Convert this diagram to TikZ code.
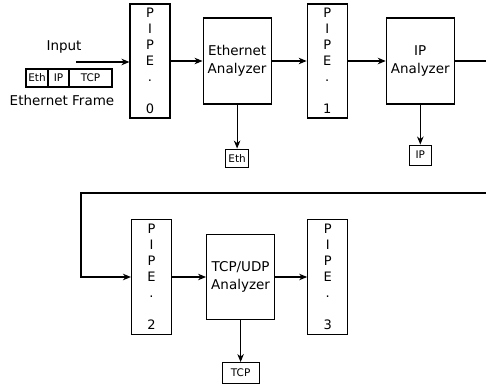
\documentclass[tikz,border=0pt]{standalone}
\usepackage{fontspec}
\setmainfont{DejaVu Sans}
\usetikzlibrary{arrows.meta,positioning}

\begin{document}
\begin{tikzpicture}[->,>={Stealth[length=8pt,width=6.5pt,inset=2.5pt]},x=1pt,y=-1pt,
                    line width=1.1pt,node distance=32pt]
  \tikzstyle{pipe}=[draw,rectangle,minimum width=40pt,minimum height=114pt,
                    inner sep=0pt,align=center,font=\fontsize{13}{16}\selectfont]
  \tikzstyle{analyzer}=[draw,rectangle,minimum width=68pt,minimum height=86pt,
                    inner sep=0pt,align=center,font=\fontsize{13.5}{17.5}\selectfont]
  \tikzstyle{outbox}=[draw,rectangle,minimum height=19pt,inner sep=2pt,
                    font=\fontsize{10.5}{12}\selectfont]
  \tikzstyle{cell}=[draw,rectangle,minimum height=18pt,inner sep=0pt,outer sep=0pt,
                    font=\fontsize{10.5}{12}\selectfont]

  \useasboundingbox (0,0) rectangle (486,385);

  % input frame
  \node (input) at (64,47) {\fontsize{13.5}{15}\selectfont Input};
  \coordinate (instart) at (76,62);
  \node[cell,minimum width=22pt] (feth) at (37,78) {Eth};
  \node[cell,minimum width=21pt] (fip) [right=0pt of feth] {IP};
  \node[cell,minimum width=43pt] (ftcp) [right=0pt of fip] {TCP};
  \node (frame) at (62,100) {\fontsize{13.5}{15}\selectfont Ethernet Frame};

  % top row
  \node[pipe] (pipe0) at (150,61) {P\\I\\P\\E\\.\\[16pt]0};
  \node[analyzer] (ethan) [right=of pipe0] {Ethernet\\Analyzer};
  \node[outbox,minimum width=23pt,minimum height=18pt] (eth) [below=44pt of ethan] {Eth};
  \node[pipe] (pipe1) [right=35pt of ethan] {P\\I\\P\\E\\.\\[16pt]1};
  \node[analyzer] (ipan) [right=38pt of pipe1] {IP\\Analyzer};
  \node[outbox,minimum width=22pt,minimum height=20pt] (ip) [below=40pt of ipan] {IP};

  % bottom row
  \coordinate (wrapr) at (495,193);
  \coordinate (wrapl) at (81,193);
  \node[pipe,minimum height=115pt] (pipe2) at (151.5,277) {P\\I\\P\\E\\.\\[16pt]2};
  \node[analyzer,minimum height=85pt] (tcpan) [right=34pt of pipe2] {TCP/UDP\\Analyzer};
  \node[outbox,minimum width=37pt,minimum height=21pt] (tcp) [below=42pt of tcpan] {TCP};
  \node[pipe,minimum height=115pt] (pipe3) [right=32pt of tcpan] {P\\I\\P\\E\\.\\[16pt]3};

  \draw (instart) -- (instart -| pipe0.west);
  \draw (pipe0) -- (ethan);
  \draw (ethan) -- (pipe1);
  \draw (pipe1) -- (ipan);
  \draw (ethan) -- (eth);
  \draw (ipan) -- (ip);
  \draw (ipan) -- (ipan -| wrapr) -- (wrapr) -- (wrapl) |- (pipe2);
  \draw (pipe2) -- (tcpan);
  \draw (tcpan) -- (pipe3);
  \draw (tcpan) -- (tcp);
\end{tikzpicture}
\end{document}
